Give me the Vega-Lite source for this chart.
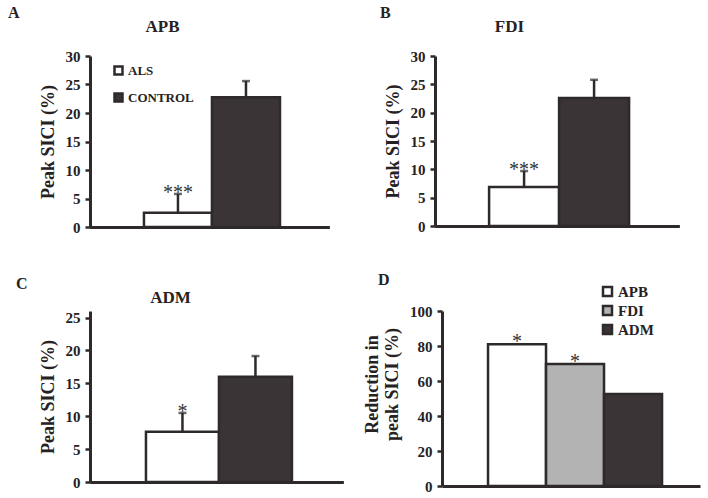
{
  "$schema": "https://vega.github.io/schema/vega-lite/v6.json",
  "background": "white",
  "padding": {"left": 8, "top": 5, "right": 5, "bottom": 5},
  "bounds": "flush",
  "spacing": 255,
  "resolve": {"scale": {"fill": "independent"}},
  "config": {
    "view": {"stroke": null},
    "axis": {"grid": false, "domainColor": "#2e2a2b", "domainWidth": 3, "tickColor": "#2e2a2b", "tickWidth": 2.5, "tickSize": 5, "labelFont": "Liberation Serif", "labelFontWeight": "bold", "labelFontSize": 15, "labelColor": "#262223", "titleFont": "Liberation Serif", "titleFontWeight": "bold", "titleFontSize": 18, "titleColor": "#262223", "labelPadding": 5, "titlePadding": 8, "labelOverlap": false},
    "title": {"font": "Liberation Serif", "fontWeight": "bold", "fontSize": 16, "color": "#262223", "anchor": "start", "frame": "group", "baseline": "alphabetic"},
    "legend": {"orient": "none", "title": null, "symbolType": "square", "symbolStrokeColor": "#2e2a2b", "symbolStrokeWidth": 2.5, "labelFont": "Liberation Serif", "labelFontWeight": "bold", "labelColor": "#262223", "padding": 0, "labelOffset": 3}
  },
  "vconcat": [
    {
      "bounds": "flush",
      "spacing": 106,
      "resolve": {"scale": {"fill": "independent"}},
      "hconcat": [
        {
          "width": 239, "height": 171,
          "title": {"text": "A", "dx": -82, "dy": 8},
          "data": {"values": [
            {"group": "ALS", "value": 2.5, "err": 5.8, "star": "***"},
            {"group": "CONTROL", "value": 22.75, "err": 25.6, "star": ""}
          ]},
          "resolve": {"axis": {"x": "independent"}},
          "encoding": {"x": {"field": "group", "type": "nominal", "sort": ["ALS", "CONTROL"], "scale": {"paddingInner": 0, "paddingOuter": 0.757, "align": 0.524}, "axis": {"orient": "bottom", "title": null, "labels": false, "ticks": false}}},
          "layer": [
            {"mark": {"type": "bar", "stroke": "#2e2a2b", "strokeWidth": 2.5},
             "encoding": {
               "y": {"field": "value", "type": "quantitative", "scale": {"domain": [0, 30]}, "axis": {"title": "Peak SICI (%)", "values": [0, 5, 10, 15, 20, 25, 30]}},
               "fill": {"field": "group", "type": "nominal", "scale": {"domain": ["ALS", "CONTROL"], "range": ["#ffffff", "#3b3436"]}, "legend": {"legendX": 22, "legendY": 8, "symbolSize": 64, "labelFontSize": 13, "rowPadding": 8}}
             }},
            {"mark": {"type": "rule", "color": "#2e2a2b", "strokeWidth": 2.5},
             "encoding": {"y": {"field": "value", "type": "quantitative", "axis": {"title": "Peak SICI (%)", "values": [0, 5, 10, 15, 20, 25, 30]}}, "y2": {"field": "err"}}},
            {"mark": {"type": "tick", "color": "#2e2a2b", "thickness": 2.5, "size": 8},
             "encoding": {"y": {"field": "err", "type": "quantitative", "axis": {"title": "Peak SICI (%)", "values": [0, 5, 10, 15, 20, 25, 30]}}}},
            {"mark": {"type": "text", "font": "Liberation Serif", "fontSize": 20, "baseline": "alphabetic", "dy": 5, "color": "#333333"},
             "encoding": {
               "x": {"field": "group", "type": "nominal", "sort": ["ALS", "CONTROL"], "axis": {"orient": "top", "title": "APB", "labels": false, "ticks": false, "domain": false, "titleX": 72, "titleY": -25, "titleBaseline": "alphabetic", "titleAlign": "center", "titleAngle": 0, "titleFontSize": 17}},
               "y": {"field": "err", "type": "quantitative", "axis": {"title": "Peak SICI (%)", "values": [0, 5, 10, 15, 20, 25, 30]}},
               "text": {"field": "star"}
             }}
          ]
        },
        {
          "width": 244, "height": 170,
          "title": {"text": "B", "dx": -55, "dy": 8},
          "data": {"values": [
            {"group": "ALS", "value": 6.9, "err": 9.7, "star": "***"},
            {"group": "CONTROL", "value": 22.6, "err": 25.8, "star": ""}
          ]},
          "resolve": {"axis": {"x": "independent"}},
          "encoding": {"x": {"field": "group", "type": "nominal", "sort": ["ALS", "CONTROL"], "scale": {"paddingInner": 0, "paddingOuter": 0.743, "align": 0.52}, "axis": {"orient": "bottom", "title": null, "labels": false, "ticks": false}}},
          "layer": [
            {"mark": {"type": "bar", "stroke": "#2e2a2b", "strokeWidth": 2.5},
             "encoding": {
               "y": {"field": "value", "type": "quantitative", "scale": {"domain": [0, 30]}, "axis": {"title": "Peak SICI (%)", "values": [0, 5, 10, 15, 20, 25, 30]}},
               "fill": {"field": "group", "type": "nominal", "scale": {"domain": ["ALS", "CONTROL"], "range": ["#ffffff", "#3b3436"]}, "legend": null}
             }},
            {"mark": {"type": "rule", "color": "#2e2a2b", "strokeWidth": 2.5},
             "encoding": {"y": {"field": "value", "type": "quantitative", "axis": {"title": "Peak SICI (%)", "values": [0, 5, 10, 15, 20, 25, 30]}}, "y2": {"field": "err"}}},
            {"mark": {"type": "tick", "color": "#2e2a2b", "thickness": 2.5, "size": 8},
             "encoding": {"y": {"field": "err", "type": "quantitative", "axis": {"title": "Peak SICI (%)", "values": [0, 5, 10, 15, 20, 25, 30]}}}},
            {"mark": {"type": "text", "font": "Liberation Serif", "fontSize": 20, "baseline": "alphabetic", "dy": 5, "color": "#333333"},
             "encoding": {
               "x": {"field": "group", "type": "nominal", "sort": ["ALS", "CONTROL"], "axis": {"orient": "top", "title": "FDI", "labels": false, "ticks": false, "domain": false, "titleX": 74, "titleY": -25, "titleBaseline": "alphabetic", "titleAlign": "center", "titleAngle": 0, "titleFontSize": 17}},
               "y": {"field": "err", "type": "quantitative", "axis": {"title": "Peak SICI (%)", "values": [0, 5, 10, 15, 20, 25, 30]}},
               "text": {"field": "star"}
             }}
          ]
        }
      ]
    },
    {
      "bounds": "flush",
      "spacing": 99,
      "resolve": {"scale": {"fill": "independent"}},
      "hconcat": [
        {
          "width": 253, "height": 171,
          "title": {"text": "C", "dx": -74, "dy": 8},
          "data": {"values": [
            {"group": "ALS", "value": 7.65, "err": 10.5, "star": "*"},
            {"group": "CONTROL", "value": 16.0, "err": 19.15, "star": ""}
          ]},
          "resolve": {"axis": {"x": "independent"}},
          "encoding": {"x": {"field": "group", "type": "nominal", "sort": ["ALS", "CONTROL"], "scale": {"paddingInner": 0, "paddingOuter": 0.733, "align": 0.523}, "axis": {"orient": "bottom", "title": null, "labels": false, "ticks": false}}},
          "layer": [
            {"mark": {"type": "bar", "stroke": "#2e2a2b", "strokeWidth": 2.5},
             "encoding": {
               "y": {"field": "value", "type": "quantitative", "scale": {"domain": [0, 25]}, "axis": {"title": "Peak SICI (%)", "values": [0, 5, 10, 15, 20, 25]}},
               "fill": {"field": "group", "type": "nominal", "scale": {"domain": ["ALS", "CONTROL"], "range": ["#ffffff", "#3b3436"]}, "legend": null}
             }},
            {"mark": {"type": "rule", "color": "#2e2a2b", "strokeWidth": 2.5},
             "encoding": {"y": {"field": "value", "type": "quantitative", "axis": {"title": "Peak SICI (%)", "values": [0, 5, 10, 15, 20, 25]}}, "y2": {"field": "err"}}},
            {"mark": {"type": "tick", "color": "#2e2a2b", "thickness": 2.5, "size": 8},
             "encoding": {"y": {"field": "err", "type": "quantitative", "axis": {"title": "Peak SICI (%)", "values": [0, 5, 10, 15, 20, 25]}}}},
            {"mark": {"type": "text", "font": "Liberation Serif", "fontSize": 20, "baseline": "alphabetic", "dy": 5, "color": "#333333"},
             "encoding": {
               "x": {"field": "group", "type": "nominal", "sort": ["ALS", "CONTROL"], "axis": {"orient": "top", "title": "ADM", "labels": false, "ticks": false, "domain": false, "titleX": 80, "titleY": -9, "titleBaseline": "alphabetic", "titleAlign": "center", "titleAngle": 0, "titleFontSize": 17}},
               "y": {"field": "err", "type": "quantitative", "axis": {"title": "Peak SICI (%)", "values": [0, 5, 10, 15, 20, 25]}},
               "text": {"field": "star"}
             }}
          ]
        },
        {
          "width": 258, "height": 175,
          "title": {"text": "D", "dx": -64, "dy": 8},
          "data": {"values": [
            {"muscle": "APB", "value": 81.0, "star": "*"},
            {"muscle": "FDI", "value": 69.7, "star": "*"},
            {"muscle": "ADM", "value": 52.6, "star": ""}
          ]},
          "encoding": {"x": {"field": "muscle", "type": "nominal", "sort": ["APB", "FDI", "ADM"], "scale": {"paddingInner": 0, "paddingOuter": 0.724, "align": 0.548}, "axis": {"orient": "bottom", "title": null, "labels": false, "ticks": false}}},
          "layer": [
            {"mark": {"type": "bar", "stroke": "#2e2a2b", "strokeWidth": 2.5},
             "encoding": {
               "y": {"field": "value", "type": "quantitative", "scale": {"domain": [0, 100]}, "axis": {"title": ["Reduction in", "peak SICI (%)"], "values": [0, 20, 40, 60, 80, 100], "titleLineHeight": 20, "titleY": 73, "titleAlign": "center"}},
               "fill": {"field": "muscle", "type": "nominal", "scale": {"domain": ["APB", "FDI", "ADM"], "range": ["#ffffff", "#b3b3b3", "#3b3436"]}, "legend": {"legendX": 158, "legendY": -27, "symbolSize": 81, "labelFontSize": 15, "rowPadding": 0}}
             }},
            {"mark": {"type": "text", "font": "Liberation Serif", "fontSize": 20, "baseline": "alphabetic", "dy": 4, "color": "#333333"},
             "encoding": {
               "y": {"field": "value", "type": "quantitative", "axis": {"title": ["Reduction in", "peak SICI (%)"], "values": [0, 20, 40, 60, 80, 100], "titleLineHeight": 20, "titleY": 73, "titleAlign": "center"}},
               "text": {"field": "star"}
             }}
          ]
        }
      ]
    }
  ]
}
